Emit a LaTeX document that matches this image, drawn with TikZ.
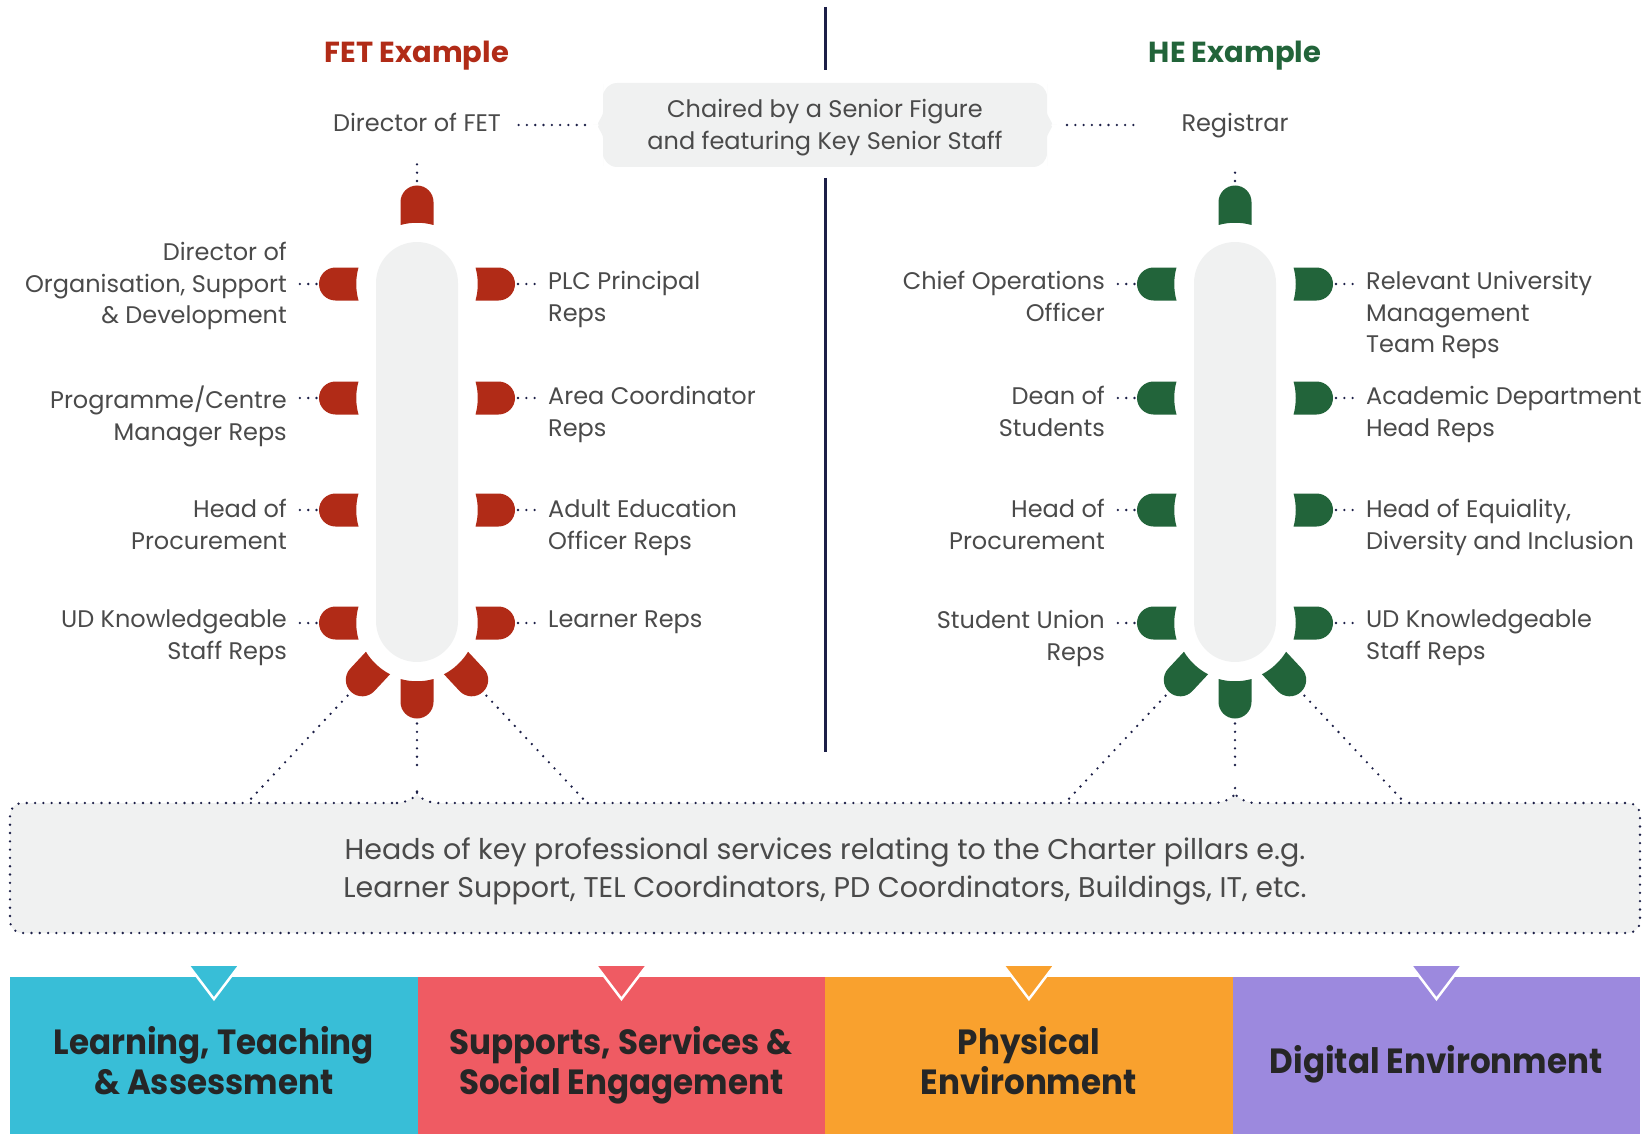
\documentclass[tikz,border=0pt]{standalone}
\usepackage{fontspec}
\setmainfont{Poppins}
\newfontfamily\pillarfont{Poppins}[FakeStretch=0.93]
\definecolor{fetred}{HTML}{B12B17}
\definecolor{hegreen}{HTML}{22643A}
\definecolor{tablegray}{HTML}{F0F1F1}
\definecolor{dotnavy}{HTML}{1C1F47}
\definecolor{txtgray}{HTML}{4A4A4A}
\definecolor{boxtxt}{HTML}{262626}
\definecolor{pcyan}{HTML}{38BED7}
\definecolor{pred}{HTML}{EF5B63}
\definecolor{porange}{HTML}{F9A12E}
\definecolor{ppurple}{HTML}{9C89DE}
\tikzset{
  dotline/.style={draw=dotnavy, line width=2.6pt, line cap=round, dash pattern=on 0pt off 8.3pt},
  lab/.style={inner sep=0pt, text=txtgray, font=\fontsize{24}{31.6}\selectfont},
  labl/.style={lab, align=right, anchor=north east, execute at begin node={\vrule height 17.5pt width 0pt\relax}},
  labr/.style={lab, align=left, anchor=north west, execute at begin node={\vrule height 17.5pt width 0pt\relax}},
  tablebox/.style={fill=tablegray, minimum width=82pt, minimum height=420pt, rounded corners=41pt, inner sep=0pt},
  titlefont/.style={inner sep=0pt, font=\fontsize{29}{34}\selectfont\bfseries, anchor=base},
  pillar/.style={minimum width=407.5pt, minimum height=157pt, inner sep=0pt, anchor=north west},
  pillartxt/.style={inner sep=0pt, text=boxtxt, align=center, font=\pillarfont\fontsize{35}{40}\selectfont\bfseries},
  tri/.style={draw=white, line width=2.5pt},
  chair/.pic={\fill[pic actions] (-16.5,0) -- (-16.5,-23) arc[start angle=180,end angle=360,radius=16.5] -- (16.5,0) .. controls (6,-3) and (-6,-3) .. (-16.5,0) -- cycle;},
}
\begin{document}
\begin{tikzpicture}[x=1pt,y=-1pt]
\useasboundingbox (0,0) rectangle (1649,1134);

% divider
\coordinate (dv1) at (825,7);
\coordinate (dv2) at (825,70);
\coordinate (dv3) at (825,178);
\coordinate (dv4) at (825,752);
\draw[dotnavy, line width=3pt] (dv1) -- (dv2) (dv3) -- (dv4);

% titles
\node[titlefont, text=fetred] (fettitle) at (417,63) {FET Example};
\node[titlefont, text=hegreen] (hetitle) at (1235,63) {HE Example};

% chaired box
\fill[tablegray, rounded corners=14pt] (603,83) -- (1047,83) -- (1047,98) .. controls (1047,117) and (1055,125) .. (1065,125) .. controls (1055,125) and (1047,133) .. (1047,152) -- (1047,167) -- (603,167) -- (603,152) .. controls (603,133) and (595,125) .. (585,125) .. controls (595,125) and (603,117) .. (603,98) -- cycle;
\node[lab, align=center, anchor=north] (chaired) at (825,99.5) {Chaired by a Senior Figure\\and featuring Key Senior Staff};
\coordinate (bl) at (585,125);
\coordinate (br) at (1065,125);

\node[lab, anchor=base] (fdir) at (417,131.5) {Director of FET};
\node[lab, anchor=base] (hreg) at (1235,131.5) {Registrar};
\draw[dotline, shorten >=10pt] (bl) -- (bl -| fdir.east);
\draw[dotline, shorten <=2pt, shorten >=42pt] (br) -- (br -| hreg.west);

% ===== FET table =====
\node[tablebox] (ftab) at (417,452) {};
\pic[fill=fetred] at (417,225) {chair};
\pic[fill=fetred, rotate=180] at (417,679) {chair};
\pic[fill=fetred, rotate=137] at (378,663) {chair};
\pic[fill=fetred, rotate=-137] at (456,663) {chair};
\foreach \y in {284,398,510,623}{
  \pic[fill=fetred, rotate=90] at (358.5,\y) {chair};
  \pic[fill=fetred, rotate=-90] at (475.5,\y) {chair};
}
\coordinate (ftopt) at (417,185.5);
\coordinate (fbott) at (417,718.5);
\coordinate (fdlt) at (351,692);
\coordinate (fdrt) at (483,692);
\coordinate (fnotch) at (417,781);
\coordinate (fdle) at (247,803);
\coordinate (fdre) at (587,803);
\coordinate (fl1t) at (319,284);
\coordinate (fl2t) at (319,398);
\coordinate (fl3t) at (319,510);
\coordinate (fl4t) at (319,623);
\coordinate (fr1t) at (515,284);
\coordinate (fr2t) at (515,398);
\coordinate (fr3t) at (515,510);
\coordinate (fr4t) at (515,623);

\node[labl] (fl1) at (287,242) {Director of\\Organisation, Support\\\& Development};
\node[labl] (fl2) at (287,386) {Programme/Centre\\Manager Reps};
\node[labl] (fl3) at (287,499) {Head of\\Procurement};
\node[labl] (fl4) at (287,610) {UD Knowledgeable\\Staff Reps};
\node[labr] (fr1) at (548,271) {PLC Principal\\Reps};
\node[labr] (fr2) at (548,386) {Area Coordinator\\Reps};
\node[labr] (fr3) at (548,499) {Adult Education\\Officer Reps};
\node[labr] (fr4) at (548,610) {Learner Reps};

\foreach \n in {1,2,3,4}{
  \draw[dotline, shorten <=2.5pt, shorten >=11pt] (fl\n t) -- (fl\n t -| fl\n.east);
  \draw[dotline, shorten <=3pt, shorten >=13pt] (fr\n t) -- (fr\n t -| fr\n.west);
}
\draw[dotline, shorten <=4.5pt, shorten >=31pt] (ftopt) -- (fdir.south);
\draw[dotline, shorten <=5pt, shorten >=15pt] (fbott) -- (fnotch);
\draw[dotline, shorten <=5pt, shorten >=3pt] (fdlt) -- (fdle);
\draw[dotline, shorten <=5pt, shorten >=3pt] (fdrt) -- (fdre);

% ===== HE table =====
\node[tablebox] (htab) at (1235,452) {};
\pic[fill=hegreen] at (1235,225) {chair};
\pic[fill=hegreen, rotate=180] at (1235,679) {chair};
\pic[fill=hegreen, rotate=137] at (1196,663) {chair};
\pic[fill=hegreen, rotate=-137] at (1274,663) {chair};
\foreach \y in {284,398,510,623}{
  \pic[fill=hegreen, rotate=90] at (1176.5,\y) {chair};
  \pic[fill=hegreen, rotate=-90] at (1293.5,\y) {chair};
}
\coordinate (htopt) at (1235,185.5);
\coordinate (hbott) at (1235,718.5);
\coordinate (hdlt) at (1169,692);
\coordinate (hdrt) at (1301,692);
\coordinate (hnotch) at (1235,781);
\coordinate (hdle) at (1065,803);
\coordinate (hdre) at (1405,803);
\coordinate (hl1t) at (1137,284);
\coordinate (hl2t) at (1137,398);
\coordinate (hl3t) at (1137,510);
\coordinate (hl4t) at (1137,623);
\coordinate (hr1t) at (1333,284);
\coordinate (hr2t) at (1333,398);
\coordinate (hr3t) at (1333,510);
\coordinate (hr4t) at (1333,623);

\node[labl] (hl1) at (1105,271) {Chief Operations\\Officer};
\node[labl] (hl2) at (1105,386) {Dean of\\Students};
\node[labl] (hl3) at (1105,499) {Head of\\Procurement};
\node[labl] (hl4) at (1105,610) {Student Union\\Reps};
\node[labr] (hr1) at (1366,271) {Relevant University\\Management\\Team Reps};
\node[labr] (hr2) at (1366,386) {Academic Department\\Head Reps};
\node[labr] (hr3) at (1366,499) {Head of Equiality,\\Diversity and Inclusion};
\node[labr] (hr4) at (1366,610) {UD Knowledgeable\\Staff Reps};

\foreach \n in {1,2,3,4}{
  \draw[dotline, shorten <=2.5pt, shorten >=11pt] (hl\n t) -- (hl\n t -| hl\n.east);
  \draw[dotline, shorten <=3pt, shorten >=13pt] (hr\n t) -- (hr\n t -| hr\n.west);
}
\draw[dotline, shorten <=4.5pt, shorten >=31pt] (htopt) -- (hreg.south);
\draw[dotline, shorten <=5pt, shorten >=15pt] (hbott) -- (hnotch);
\draw[dotline, shorten <=5pt, shorten >=3pt] (hdlt) -- (hdle);
\draw[dotline, shorten <=5pt, shorten >=3pt] (hdrt) -- (hdre);

% ===== services box =====
\path[fill=tablegray, dotline, rounded corners=12pt] (385,803) .. controls (405,803) and (417,797) .. (417,781) .. controls (417,797) and (429,803) .. (449,803) -- (1203,803) .. controls (1223,803) and (1235,797) .. (1235,781) .. controls (1235,797) and (1247,803) .. (1267,803) -- (1640,803) -- (1640,933) -- (10,933) -- (10,803) -- cycle;
\node[inner sep=0pt, text=txtgray, align=center, anchor=north, font=\fontsize{28.5}{38}\selectfont] (services) at (825,838) {Heads of key professional services relating to the Charter pillars e.g.\\Learner Support, TEL Coordinators, PD Coordinators, Buildings, IT, etc.};

% ===== pillars =====
\node[pillar, fill=pcyan] (p1) at (10,977) {};
\node[pillar, fill=pred] (p2) at (417.5,977) {};
\node[pillar, fill=porange] (p3) at (825,977) {};
\node[pillar, fill=ppurple] (p4) at (1232.5,977) {};
\foreach \i/\c in {1/pcyan,2/pred,3/porange,4/ppurple}{
  \path[fill=\c, tri] ([xshift=-25pt,yshift=11pt]p\i.north) -- ([yshift=-22pt]p\i.north) -- ([xshift=25pt,yshift=11pt]p\i.north);
}
\node[pillartxt, anchor=north] (t1) at (213.75,1026) {Learning, Teaching\\\& Assessment};
\node[pillartxt, anchor=north] (t2) at (621.25,1026) {Supports, Services \&\\Social Engagement};
\node[pillartxt, anchor=north] (t3) at (1028.75,1026) {Physical\\Environment};
\node[pillartxt, anchor=base] (t4) at (1436.25,1073) {Digital Environment};
\end{tikzpicture}
\end{document}
